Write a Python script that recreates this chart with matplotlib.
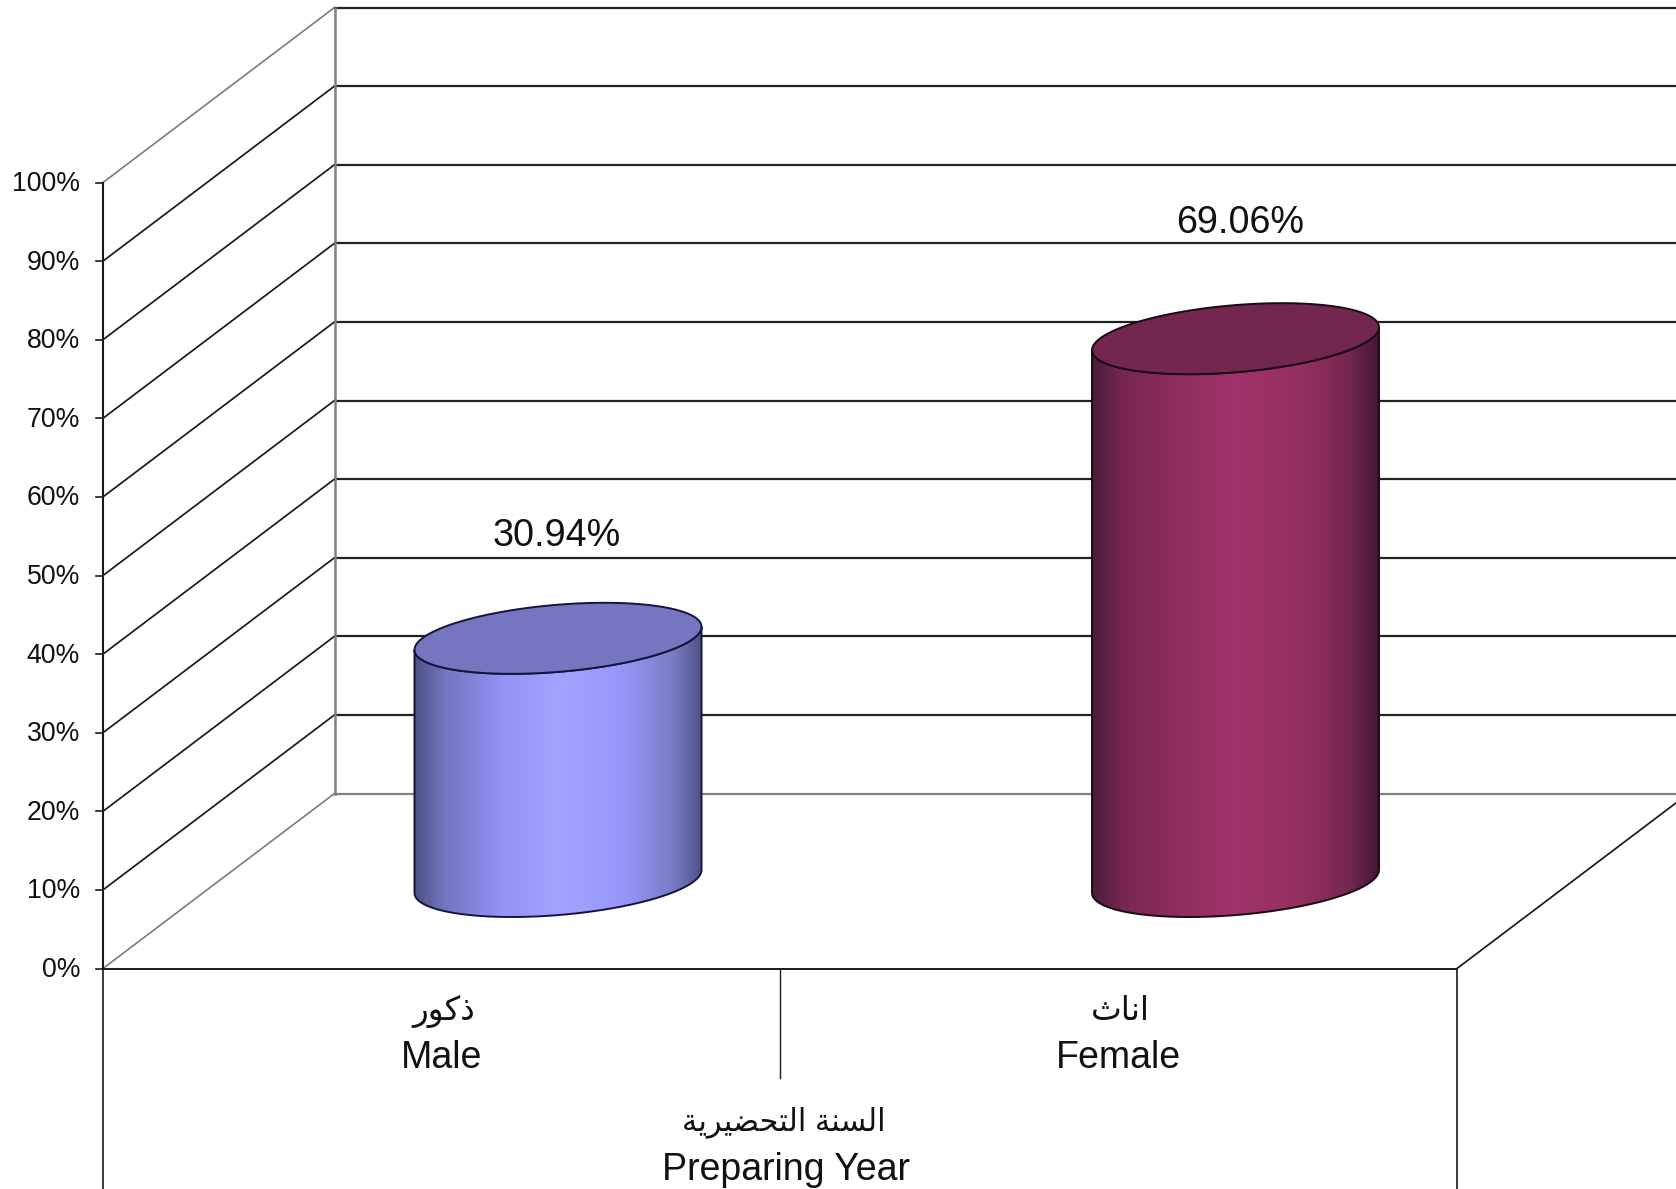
import matplotlib
matplotlib.use('Agg')
import matplotlib.pyplot as plt
from matplotlib.colors import LinearSegmentedColormap
from matplotlib.patches import PathPatch
from matplotlib.path import Path
import numpy as np

matplotlib.rcParams['font.family'] = ['Liberation Sans', 'DejaVu Sans']

# Data
categories = ['Male', 'Female']
# Arabic in visual order with presentation forms, matplotlib does no shaping
categories_ar = ['\ufead\ufeee\ufedb\ufeab', '\ufe99\ufe8e\ufee7\ufe8d']
values = [30.94, 69.06]
value_labels = ['30.94%', '69.06%']
ticks = [0, 10, 20, 30, 40, 50, 60, 70, 80, 90, 100]
tick_labels = ['0%', '10%', '20%', '30%', '40%', '50%', '60%', '70%', '80%', '90%', '100%']
axis_title = 'Preparing Year'
axis_title_ar = '\ufe94\ufef3\ufeae\ufef4\ufec0\ufea4\ufe98\ufedf\ufe8d \ufe94\ufee8\ufeb4\ufedf\ufe8d'

# Layout of the fake 3D box, in pixels of the output image
W, H = 1676, 1189
front_x, front_right = 103, 1457
y_zero, px_per_unit = 968.5, 7.86
depth_x, depth_y = 231.5, -175
back_x = front_x + depth_x

bar_centers = [558, 1235.5]
bar_half_w = 143.5
bar_base_y = 881.5
ell_tilt, ell_b = 11.5, 33.6

blue_cmap = LinearSegmentedColormap.from_list('blue', [
    (0, '#4e5288'), (0.1, '#7174bd'), (0.3, '#9393f5'), (0.5, '#a3a3ff'),
    (0.72, '#9797fa'), (0.9, '#7a7cc4'), (1, '#4e5288')])
red_cmap = LinearSegmentedColormap.from_list('red', [
    (0, '#4c1b3a'), (0.1, '#74274f'), (0.3, '#8f2e5e'), (0.5, '#a0336b'),
    (0.72, '#96305f'), (0.9, '#74274f'), (1, '#431634')])
bar_cmaps = [blue_cmap, red_cmap]
top_colors = ['#7676c0', '#73264e']
edge_colors = ['#14143c', '#1a0a14']

GREY = '#808080'
DARK = '#1a1a1a'


def val_y(v):
    return y_zero - v * px_per_unit


def ellipse(cx, cy, t):
    return cx + bar_half_w * np.cos(t), cy - ell_tilt * np.cos(t) + ell_b * np.sin(t)


fig = plt.figure(figsize=(W / 100, H / 100), dpi=100)
ax = fig.add_axes([0, 0, 1, 1])
ax.set_xlim(0, W)
ax.set_ylim(H, 0)
ax.axis('off')

# Grid on both walls, the floor and top edge lines are grey
for t, lab in zip(ticks, tick_labels):
    col = GREY if t in (0, 100) else DARK
    y = val_y(t)
    ax.plot([front_x, back_x], [y, y + depth_y], color=col, lw=1.25, zorder=1)
    ax.plot([back_x, W], [y + depth_y, y + depth_y], color=col if t == 0 else '#222222', lw=1.6, zorder=1)
    ax.plot([front_x - 7, front_x], [y, y], color=DARK, lw=1.2, zorder=2)
    ax.text(front_x - 23, y + 1.5, lab, ha='right', va='center', fontsize=19.2, color='#111111')

ax.plot([back_x, back_x], [val_y(0) + depth_y, val_y(100) + depth_y], color=GREY, lw=1.8, zorder=1)
ax.plot([front_x, front_x], [val_y(0), val_y(100)], color=DARK, lw=1.5, zorder=2)
ax.plot([front_x, front_right], [val_y(0), val_y(0)], color=DARK, lw=1.4, zorder=2)
ax.plot([front_right, front_right + (W - front_right)],
        [val_y(0), val_y(0) + depth_y * (W - front_right) / depth_x], color=DARK, lw=1.25, zorder=2)

# Separators under the floor
mid_x = (front_x + front_right) / 2 - 0.5
ax.plot([front_x, front_x], [val_y(0), H], color=DARK, lw=1.2, zorder=2)
ax.plot([front_right, front_right], [val_y(0), H], color=DARK, lw=1.2, zorder=2)
ax.plot([mid_x, mid_x], [val_y(0), 1078], color=DARK, lw=1.0, zorder=2)

# Cylinders
t_front = np.linspace(np.pi, 0, 120)
t_full = np.linspace(0, 2 * np.pi, 240)
label_gaps = [102, 116]
for i, v in enumerate(values):
    cx = bar_centers[i]
    top_y = bar_base_y - v * px_per_unit
    # front half of the base, then back up along the top ellipse
    bx, by = ellipse(cx, bar_base_y, t_front)
    tx, ty = ellipse(cx, top_y, t_front[::-1])
    verts = np.column_stack([np.r_[bx, tx], np.r_[by, ty]])
    body = PathPatch(Path(np.vstack([verts, verts[0]])), facecolor='none',
                     edgecolor=edge_colors[i], lw=1.4, zorder=4)
    ax.add_patch(body)
    grad = ax.imshow(np.linspace(0, 1, 256)[None, :], cmap=bar_cmaps[i], aspect='auto', zorder=3,
                     extent=[cx - bar_half_w, cx + bar_half_w, bar_base_y + 50, top_y - 50])
    grad.set_clip_path(PathPatch(Path(np.vstack([verts, verts[0]])), transform=ax.transData))

    ex, ey = ellipse(cx, top_y, t_full)
    ax.fill(ex, ey, facecolor=top_colors[i], edgecolor=edge_colors[i], lw=1.4, zorder=5)

    ax.text(cx - 1.5 + 6 * i, top_y - label_gaps[i], value_labels[i], ha='center', va='center',
            fontsize=27.2, color='#111111', zorder=6)

# imshow resets limits
ax.set_xlim(0, W)
ax.set_ylim(H, 0)

# Category labels and axis title
cat_x = [(front_x + mid_x) / 2, (mid_x + front_right) / 2]
for x, name, name_ar in zip(cat_x, categories, categories_ar):
    ax.text(x, 1058.5, name, ha='center', va='center', fontsize=27, color='#111111')
    ax.text(x + 2, 1012, name_ar, ha='center', va='center', fontsize=23.5, color='#111111')
ax.text(786, 1170, axis_title, ha='center', va='center', fontsize=27, color='#111111')
ax.text(784, 1122, axis_title_ar, ha='center', va='center', fontsize=22, color='#111111')

fig.savefig('out.png', dpi=100, facecolor='white')
